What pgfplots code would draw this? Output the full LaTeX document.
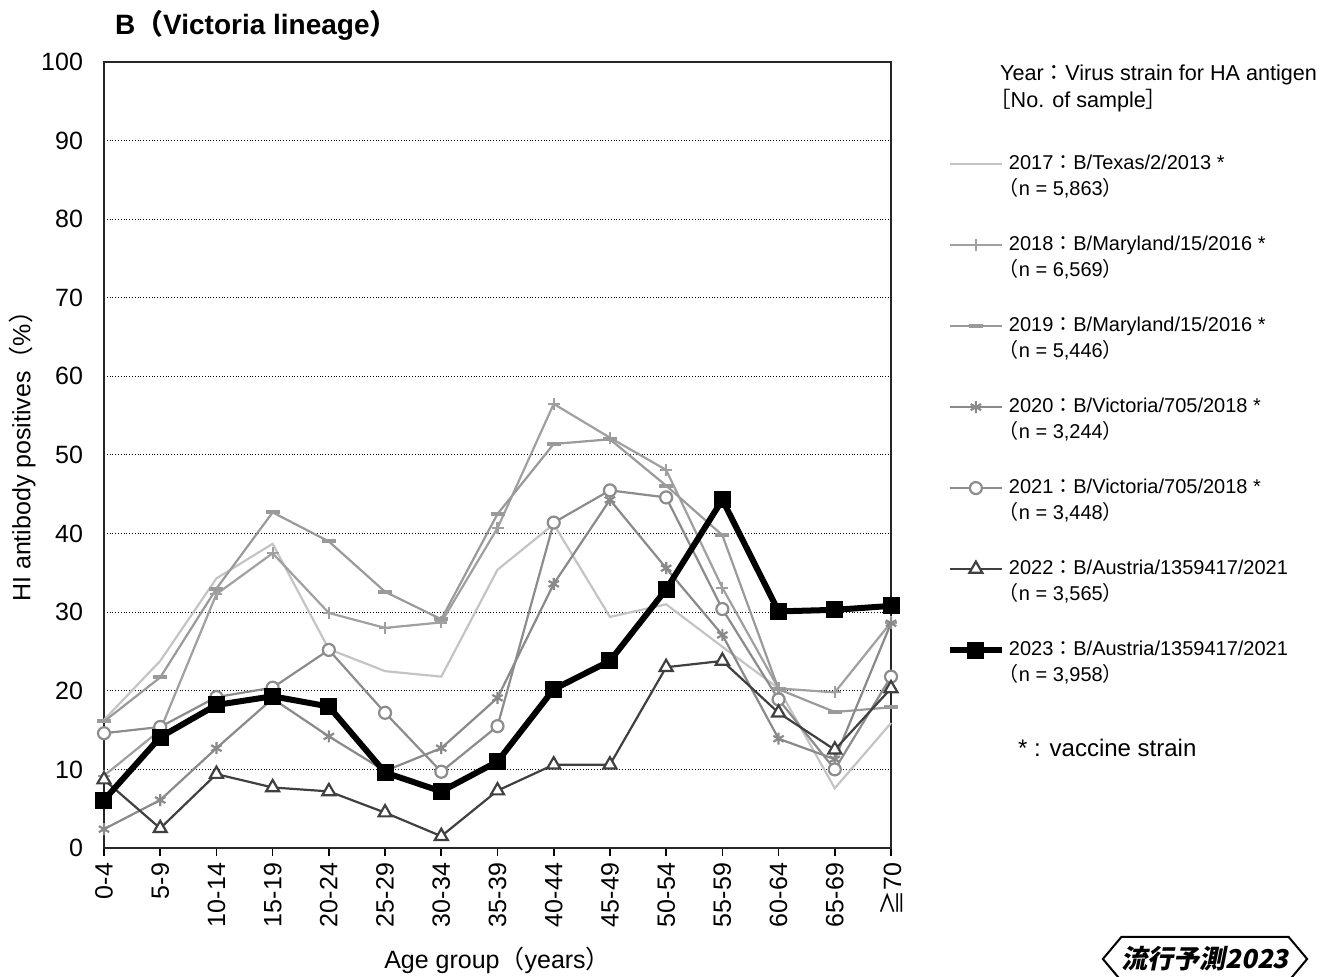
\documentclass[border=0pt]{standalone}
\usepackage{fontspec}
\setmainfont{Liberation Sans}
\newfontfamily\cjk{Noto Sans CJK JP}
\newfontfamily\logofont[FakeSlant=0.2]{Noto Sans CJK JP}
\usepackage{pgfplots}
\pgfplotsset{compat=1.18}
\usepackage{pgfplotstable}
\usetikzlibrary{shapes.symbols}

\newcommand\cj[1]{{\cjk #1}}
% legend text: first line plus "(n = ...)" hung below it
\newcommand\ent[2]{\smash{\rlap{\hspace*{-5pt}\raisebox{-13pt}{\cj{（}n = #2\cj{）}}}}#1}

\definecolor{c17}{HTML}{C4C4C4}
\definecolor{c18}{HTML}{A0A0A0}
\definecolor{c19}{HTML}{9A9A9A}
\definecolor{c20}{HTML}{8A8A8A}
\definecolor{c21}{HTML}{8C8C8C}
\definecolor{c22}{HTML}{404040}

\pgfplotstableread{
x  y17  y18  y19  y20  y21  y22  y23
0  16.3 9.2  16.1 2.4  14.6 8.7  6.1
1  23.8 15.0 21.7 6.1  15.4 2.5  14.1
2  34.3 32.3 33.0 12.7 19.2 9.4  18.2
3  38.7 37.5 42.7 19.0 20.4 7.7  19.3
4  25.3 29.9 39.0 14.2 25.2 7.2  18.0
5  22.5 28.0 32.6 9.8  17.2 4.5  9.6
6  21.8 28.7 29.1 12.7 9.7  1.5  7.2
7  35.4 40.7 42.5 19.1 15.5 7.3  11.0
8  41.2 56.5 51.4 33.6 41.4 10.6 20.2
9  29.4 52.2 52.0 44.3 45.5 10.6 23.8
10 31.0 48.1 46.1 35.6 44.6 23.0 32.9
11 25.6 33.1 39.8 27.1 30.4 23.8 44.3
12 20.3 20.3 20.2 13.9 18.9 17.2 30.1
13 7.6  19.8 17.3 11.3 10.0 12.5 30.3
14 15.9 28.7 17.9 28.6 21.8 20.3 30.8
}\datatable

\begin{document}
\begin{tikzpicture}
\useasboundingbox (-52pt,-64.5pt) rectangle (613.5pt,424pt);
\begin{axis}[
  at={(0,0)}, anchor=south west,
  scale only axis, width=393.5pt, height=393pt,
  xmin=0, xmax=14, ymin=0, ymax=100,
  clip=false,
  axis line style={black!85, line width=0.8pt},
  xtick={0,...,14},
  xticklabels={0-4,5-9,10-14,15-19,20-24,25-29,30-34,35-39,40-44,45-49,50-54,55-59,60-64,65-69,\cj{≧}70},
  ytick={0,10,...,100},
  xtick pos=left, ytick pos=left,
  tick align=outside,
  major tick length=4pt,
  ytick style={draw=none},
  xtick style={black, line width=0.8pt},
  /pgf/number format/assume math mode=true,
  tick label style={font=\fontsize{12.5}{15}\selectfont},
  xticklabel style={rotate=90, anchor=east},
  yticklabel style={xshift=-3pt},
  ymajorgrids,
  major grid style={densely dotted, black, line width=0.5pt},
  xlabel={Age group\cj{（}years\cj{）}},
  ylabel={HI antibody positives\cj{（}\%\cj{）}},
  label style={font=\fontsize{12.5}{15}\selectfont},
  xlabel style={at={(axis description cs:0.5,-0.1425)}, anchor=center},
  ylabel style={at={(axis description cs:-0.104,0.506)}, anchor=center},
  legend cell align=left,
  legend image code/.code={\draw[mark repeat=2, mark phase=2, #1] plot coordinates {(0pt,0pt) (13pt,0pt) (26pt,0pt)};},
  legend style={at={(axis description cs:1.0705,0.8868)}, anchor=north west,
    draw=none, fill=none, inner sep=0pt, row sep=27.75pt,
    font=\fontsize{10}{12}\selectfont, cells={anchor=west}},
  /tikz/every even column/.append style={column sep=8.5pt},
]
\addplot[c17, line width=1.1pt] table[x=x, y=y17]{\datatable};
\addlegendentry{\ent{2017\cj{：}B/Texas/2/2013 *}{5,863}}
\addplot[c18, line width=1.1pt, mark=+, mark size=3pt] table[x=x, y=y18]{\datatable};
\addlegendentry{\ent{2018\cj{：}B/Maryland/15/2016 *}{6,569}}
\addplot[c19, line width=1.1pt, mark=-, mark size=3.5pt, mark options={line width=2pt}] table[x=x, y=y19]{\datatable};
\addlegendentry{\ent{2019\cj{：}B/Maryland/15/2016 *}{5,446}}
\addplot[c20, line width=1.1pt, mark=asterisk, mark size=3pt] table[x=x, y=y20]{\datatable};
\addlegendentry{\ent{2020\cj{：}B/Victoria/705/2018 *}{3,244}}
\addplot[c21, line width=1.1pt, mark=*, mark size=3pt, mark options={fill=white}] table[x=x, y=y21]{\datatable};
\addlegendentry{\ent{2021\cj{：}B/Victoria/705/2018 *}{3,448}}
\addplot[c22, line width=1.1pt, mark=triangle*, mark size=3.75pt, mark options={fill=white}] table[x=x, y=y22]{\datatable};
\addlegendentry{\ent{2022\cj{：}B/Austria/1359417/2021}{3,565}}
\addplot[black, line width=3pt, mark=square*, mark size=4pt, mark options={line width=0.5pt}] table[x=x, y=y23]{\datatable};
\addlegendentry{\ent{2023\cj{：}B/Austria/1359417/2021}{3,958}}

\node[anchor=west, font=\bfseries\fontsize{14}{16}\selectfont] at (axis description cs:0.005,1.047) {B\cj{（}Victoria lineage\cj{）}};
\node[anchor=west, font=\fontsize{10.8}{13}\selectfont] at (axis description cs:1.1296,0.9835) {Year\cj{：}Virus strain for HA antigen};
\node[anchor=west, font=\fontsize{10.8}{13}\selectfont] at (axis description cs:1.1156,0.9504) {\cj{［}No. of sample\cj{］}};
\node[anchor=west, font=\fontsize{12}{14}\selectfont] at (axis description cs:1.1525,0.1272) {* : vaccine strain};
\node[draw, line width=1pt, signal, signal to=west and east, signal pointer angle=100,
  minimum height=22pt, inner xsep=0pt, inner ysep=1pt,
  font=\logofont\bfseries\fontsize{13}{14}\selectfont] at (axis description cs:1.399,-0.1412) {流行予測2023};
\end{axis}
\end{tikzpicture}
\end{document}
